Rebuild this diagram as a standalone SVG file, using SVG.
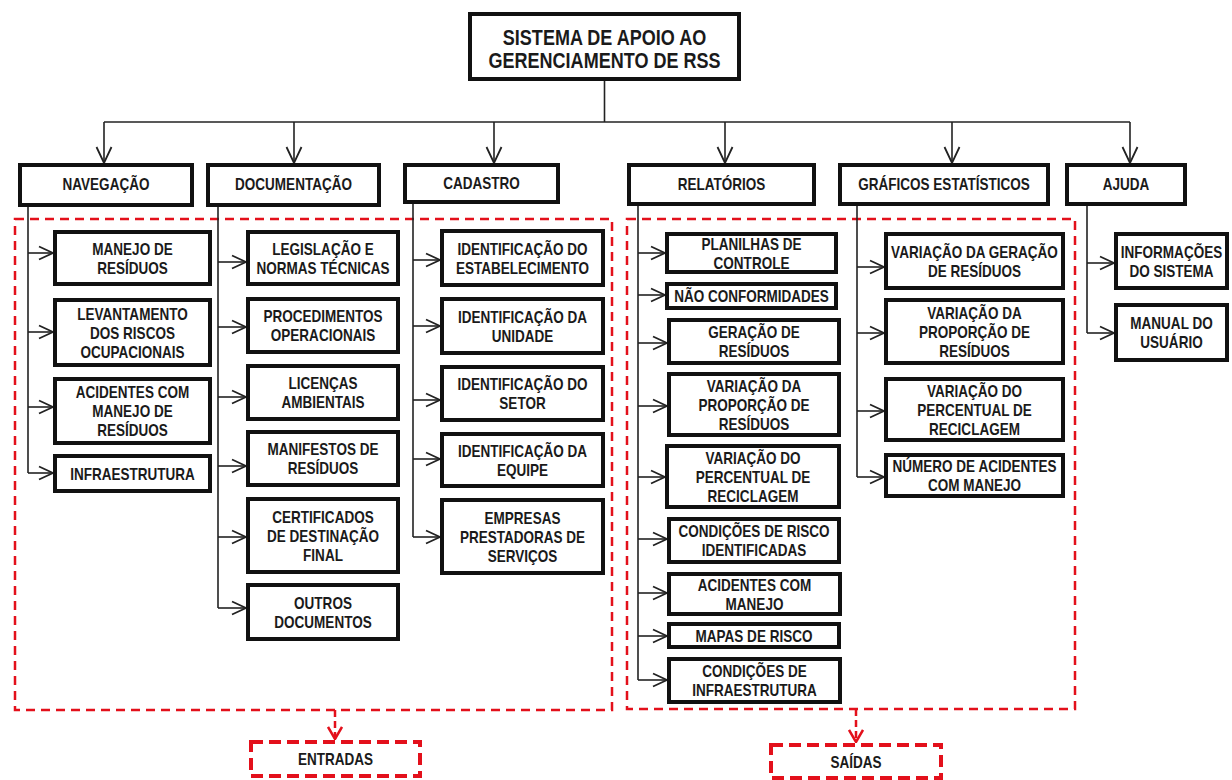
<svg xmlns="http://www.w3.org/2000/svg" width="1232" height="780" viewBox="0 0 1232 780">
<style>
.box{fill:#fff;stroke:#111;stroke-width:4}
.t{font-family:"Liberation Sans",Arial,sans-serif;font-weight:bold;font-size:16.5px;fill:#1a1a1a;text-anchor:middle}
.title{font-size:22px}
.conn{stroke:#222;stroke-width:1.6;fill:none}
.arr{marker-end:url(#ah)}
.arrt{marker-end:url(#aht)}
.rarr{stroke:#e3101b;stroke-width:2.5;stroke-dasharray:7 4;fill:none;marker-end:url(#rah)}
.dash{fill:none;stroke:#e3101b;stroke-width:2.5;stroke-dasharray:9 6}
.dash2{fill:#fff;stroke:#e3101b;stroke-width:4;stroke-dasharray:12 6}
</style>
<defs>
<marker id="ah" viewBox="0 0 16 16" refX="15" refY="8" markerWidth="16" markerHeight="16" markerUnits="userSpaceOnUse" orient="auto"><path d="M1,1.5 L15,8 L1,14.5" fill="none" stroke="#222" stroke-width="1.8"/></marker>
<marker id="aht" viewBox="0 0 18 18" refX="17" refY="9" markerWidth="18" markerHeight="18" markerUnits="userSpaceOnUse" orient="auto"><path d="M1,1.5 L17,9 L1,16.5" fill="none" stroke="#222" stroke-width="1.8"/></marker>
<marker id="rah" viewBox="0 0 14 16" refX="13" refY="8" markerWidth="14" markerHeight="16" markerUnits="userSpaceOnUse" orient="auto"><path d="M1,1 L13,8 L1,15" fill="none" stroke="#e3101b" stroke-width="2.5"/></marker>
</defs>
<rect width="1232" height="780" fill="#fff"/>

<g id="groups">
<rect class="dash" x="15" y="219" width="597" height="491"/>
<rect class="dash" x="627" y="219" width="448" height="490"/>
</g>

<g id="connectors">
<line class="conn" x1="604.5" y1="81" x2="604.5" y2="122"/>
<line class="conn" x1="104" y1="122" x2="1130" y2="122"/>
<line class="conn arrt" x1="104" y1="122" x2="104" y2="163"/>
<line class="conn arrt" x1="294" y1="122" x2="294" y2="163"/>
<line class="conn arrt" x1="494" y1="122" x2="494" y2="163"/>
<line class="conn arrt" x1="725" y1="122" x2="725" y2="163"/>
<line class="conn arrt" x1="952" y1="122" x2="952" y2="163"/>
<line class="conn arrt" x1="1130" y1="122" x2="1130" y2="163"/>

<line class="conn" x1="28" y1="206" x2="28" y2="473"/>
<line class="conn arr" x1="28" y1="253" x2="53" y2="253"/>
<line class="conn arr" x1="28" y1="332" x2="53" y2="332"/>
<line class="conn arr" x1="28" y1="407" x2="53" y2="407"/>
<line class="conn arr" x1="28" y1="473" x2="53" y2="473"/>

<line class="conn" x1="218" y1="206" x2="218" y2="608"/>
<line class="conn arr" x1="218" y1="262" x2="246" y2="262"/>
<line class="conn arr" x1="218" y1="327" x2="246" y2="327"/>
<line class="conn arr" x1="218" y1="397" x2="246" y2="397"/>
<line class="conn arr" x1="218" y1="466" x2="246" y2="466"/>
<line class="conn arr" x1="218" y1="537" x2="246" y2="537"/>
<line class="conn arr" x1="218" y1="608" x2="246" y2="608"/>

<line class="conn" x1="413" y1="204" x2="413" y2="537"/>
<line class="conn arr" x1="413" y1="260" x2="440" y2="260"/>
<line class="conn arr" x1="413" y1="326" x2="440" y2="326"/>
<line class="conn arr" x1="413" y1="400" x2="440" y2="400"/>
<line class="conn arr" x1="413" y1="459" x2="440" y2="459"/>
<line class="conn arr" x1="413" y1="537" x2="440" y2="537"/>

<line class="conn" x1="638" y1="206" x2="638" y2="680"/>
<line class="conn arr" x1="638" y1="253" x2="665" y2="253"/>
<line class="conn arr" x1="638" y1="295" x2="665" y2="295"/>
<line class="conn arr" x1="638" y1="343" x2="667" y2="343"/>
<line class="conn arr" x1="638" y1="406" x2="667" y2="406"/>
<line class="conn arr" x1="638" y1="477" x2="665" y2="477"/>
<line class="conn arr" x1="638" y1="539" x2="667" y2="539"/>
<line class="conn arr" x1="638" y1="593" x2="667" y2="593"/>
<line class="conn arr" x1="638" y1="636" x2="667" y2="636"/>
<line class="conn arr" x1="638" y1="680" x2="667" y2="680"/>

<line class="conn" x1="857" y1="206" x2="857" y2="477"/>
<line class="conn arr" x1="857" y1="267" x2="884" y2="267"/>
<line class="conn arr" x1="857" y1="333" x2="884" y2="333"/>
<line class="conn arr" x1="857" y1="411" x2="884" y2="411"/>
<line class="conn arr" x1="857" y1="477" x2="884" y2="477"/>

<line class="conn" x1="1087" y1="206" x2="1087" y2="333"/>
<line class="conn arr" x1="1087" y1="263" x2="1114" y2="263"/>
<line class="conn arr" x1="1087" y1="333" x2="1114" y2="333"/>

<line class="rarr" x1="335" y1="710" x2="335" y2="739"/>
<line class="rarr" x1="856" y1="709" x2="856" y2="742"/>
</g>

<g id="root"><rect class="box" x="470" y="14" width="269" height="65"/><text class="t title" transform="translate(604.5 45) scale(.82 1)">SISTEMA DE APOIO AO</text><text class="t title" transform="translate(604.5 68) scale(.82 1)">GERENCIAMENTO DE RSS</text></g>

<g id="navegacao"><rect class="box" x="20" y="165" width="172" height="40"/><text class="t" transform="translate(106 190) scale(.82 1)">NAVEGAÇÃO</text></g>
<g id="documentacao"><rect class="box" x="208" y="165" width="171" height="40"/><text class="t" transform="translate(293.5 190) scale(.82 1)">DOCUMENTAÇÃO</text></g>
<g id="cadastro"><rect class="box" x="405" y="165" width="153" height="37"/><text class="t" transform="translate(481.5 189) scale(.82 1)">CADASTRO</text></g>
<g id="relatorios"><rect class="box" x="629" y="165" width="185" height="39"/><text class="t" transform="translate(721.5 190) scale(.82 1)">RELATÓRIOS</text></g>
<g id="graficos"><rect class="box" x="840" y="165" width="208" height="39"/><text class="t" transform="translate(944 190) scale(.82 1)">GRÁFICOS ESTATÍSTICOS</text></g>
<g id="ajuda"><rect class="box" x="1067" y="165" width="118" height="39"/><text class="t" transform="translate(1126 190) scale(.82 1)">AJUDA</text></g>

<g id="nav1"><rect class="box" x="55" y="232" width="155" height="52"/><text class="t" transform="translate(132.5 254.5) scale(.82 1)">MANEJO DE</text><text class="t" transform="translate(132.5 273.5) scale(.82 1)">RESÍDUOS</text></g>
<g id="nav2"><rect class="box" x="55" y="300" width="155" height="65"/><text class="t" transform="translate(132.5 319.5) scale(.82 1)">LEVANTAMENTO</text><text class="t" transform="translate(132.5 338.5) scale(.82 1)">DOS RISCOS</text><text class="t" transform="translate(132.5 357.5) scale(.82 1)">OCUPACIONAIS</text></g>
<g id="nav3"><rect class="box" x="55" y="379" width="155" height="64"/><text class="t" transform="translate(132.5 398) scale(.82 1)">ACIDENTES COM</text><text class="t" transform="translate(132.5 417) scale(.82 1)">MANEJO DE</text><text class="t" transform="translate(132.5 436) scale(.82 1)">RESÍDUOS</text></g>
<g id="nav4"><rect class="box" x="55" y="456" width="155" height="35"/><text class="t" transform="translate(132.5 479.5) scale(.82 1)">INFRAESTRUTURA</text></g>

<g id="doc1"><rect class="box" x="248" y="232" width="150" height="52"/><text class="t" transform="translate(323 254.5) scale(.82 1)">LEGISLAÇÃO E</text><text class="t" transform="translate(323 273.5) scale(.82 1)">NORMAS TÉCNICAS</text></g>
<g id="doc2"><rect class="box" x="248" y="299" width="150" height="53"/><text class="t" transform="translate(323 322) scale(.82 1)">PROCEDIMENTOS</text><text class="t" transform="translate(323 341) scale(.82 1)">OPERACIONAIS</text></g>
<g id="doc3"><rect class="box" x="248" y="366" width="150" height="53"/><text class="t" transform="translate(323 389) scale(.82 1)">LICENÇAS</text><text class="t" transform="translate(323 408) scale(.82 1)">AMBIENTAIS</text></g>
<g id="doc4"><rect class="box" x="248" y="432" width="150" height="53"/><text class="t" transform="translate(323 455) scale(.82 1)">MANIFESTOS DE</text><text class="t" transform="translate(323 474) scale(.82 1)">RESÍDUOS</text></g>
<g id="doc5"><rect class="box" x="248" y="499" width="150" height="73"/><text class="t" transform="translate(323 522.5) scale(.82 1)">CERTIFICADOS</text><text class="t" transform="translate(323 541.5) scale(.82 1)">DE DESTINAÇÃO</text><text class="t" transform="translate(323 560.5) scale(.82 1)">FINAL</text></g>
<g id="doc6"><rect class="box" x="248" y="585" width="150" height="54"/><text class="t" transform="translate(323 608.5) scale(.82 1)">OUTROS</text><text class="t" transform="translate(323 627.5) scale(.82 1)">DOCUMENTOS</text></g>

<g id="cad1"><rect class="box" x="442" y="231" width="161" height="54"/><text class="t" transform="translate(522.5 254.5) scale(.82 1)">IDENTIFICAÇÃO DO</text><text class="t" transform="translate(522.5 273.5) scale(.82 1)">ESTABELECIMENTO</text></g>
<g id="cad2"><rect class="box" x="442" y="299" width="161" height="54"/><text class="t" transform="translate(522.5 322.5) scale(.82 1)">IDENTIFICAÇÃO DA</text><text class="t" transform="translate(522.5 341.5) scale(.82 1)">UNIDADE</text></g>
<g id="cad3"><rect class="box" x="442" y="367" width="161" height="53"/><text class="t" transform="translate(522.5 390) scale(.82 1)">IDENTIFICAÇÃO DO</text><text class="t" transform="translate(522.5 409) scale(.82 1)">SETOR</text></g>
<g id="cad4"><rect class="box" x="442" y="434" width="161" height="52"/><text class="t" transform="translate(522.5 456.5) scale(.82 1)">IDENTIFICAÇÃO DA</text><text class="t" transform="translate(522.5 475.5) scale(.82 1)">EQUIPE</text></g>
<g id="cad5"><rect class="box" x="442" y="500" width="161" height="73"/><text class="t" transform="translate(522.5 523.5) scale(.82 1)">EMPRESAS</text><text class="t" transform="translate(522.5 542.5) scale(.82 1)">PRESTADORAS DE</text><text class="t" transform="translate(522.5 561.5) scale(.82 1)">SERVIÇOS</text></g>

<g id="rel1"><rect class="box" x="667" y="234" width="169" height="38"/><text class="t" transform="translate(751.5 249.5) scale(.82 1)">PLANILHAS DE</text><text class="t" transform="translate(751.5 268.5) scale(.82 1)">CONTROLE</text></g>
<g id="rel2"><rect class="box" x="667" y="284" width="169" height="24"/><text class="t" transform="translate(751.5 302) scale(.82 1)">NÃO CONFORMIDADES</text></g>
<g id="rel3"><rect class="box" x="669" y="320" width="170" height="43"/><text class="t" transform="translate(754 338) scale(.82 1)">GERAÇÃO DE</text><text class="t" transform="translate(754 357) scale(.82 1)">RESÍDUOS</text></g>
<g id="rel4"><rect class="box" x="669" y="374" width="170" height="61"/><text class="t" transform="translate(754 391.5) scale(.82 1)">VARIAÇÃO DA</text><text class="t" transform="translate(754 410.5) scale(.82 1)">PROPORÇÃO DE</text><text class="t" transform="translate(754 429.5) scale(.82 1)">RESÍDUOS</text></g>
<g id="rel5"><rect class="box" x="667" y="446" width="172" height="61"/><text class="t" transform="translate(753 463.5) scale(.82 1)">VARIAÇÃO DO</text><text class="t" transform="translate(753 482.5) scale(.82 1)">PERCENTUAL DE</text><text class="t" transform="translate(753 501.5) scale(.82 1)">RECICLAGEM</text></g>
<g id="rel6"><rect class="box" x="669" y="519" width="170" height="43"/><text class="t" transform="translate(754 537) scale(.82 1)">CONDIÇÕES DE RISCO</text><text class="t" transform="translate(754 556) scale(.82 1)">IDENTIFICADAS</text></g>
<g id="rel7"><rect class="box" x="669" y="574" width="171" height="40"/><text class="t" transform="translate(754.5 590.5) scale(.82 1)">ACIDENTES COM</text><text class="t" transform="translate(754.5 609.5) scale(.82 1)">MANEJO</text></g>
<g id="rel8"><rect class="box" x="669" y="624" width="170" height="23"/><text class="t" transform="translate(754 641.5) scale(.82 1)">MAPAS DE RISCO</text></g>
<g id="rel9"><rect class="box" x="669" y="659" width="171" height="43"/><text class="t" transform="translate(754.5 677) scale(.82 1)">CONDIÇÕES DE</text><text class="t" transform="translate(754.5 696) scale(.82 1)">INFRAESTRUTURA</text></g>

<g id="gra1"><rect class="box" x="886" y="234" width="177" height="54"/><text class="t" transform="translate(974.5 257.5) scale(.82 1)">VARIAÇÃO DA GERAÇÃO</text><text class="t" transform="translate(974.5 276.5) scale(.82 1)">DE RESÍDUOS</text></g>
<g id="gra2"><rect class="box" x="886" y="300" width="177" height="63"/><text class="t" transform="translate(974.5 318.5) scale(.82 1)">VARIAÇÃO DA</text><text class="t" transform="translate(974.5 337.5) scale(.82 1)">PROPORÇÃO DE</text><text class="t" transform="translate(974.5 356.5) scale(.82 1)">RESÍDUOS</text></g>
<g id="gra3"><rect class="box" x="886" y="379" width="177" height="61"/><text class="t" transform="translate(974.5 396.5) scale(.82 1)">VARIAÇÃO DO</text><text class="t" transform="translate(974.5 415.5) scale(.82 1)">PERCENTUAL DE</text><text class="t" transform="translate(974.5 434.5) scale(.82 1)">RECICLAGEM</text></g>
<g id="gra4"><rect class="box" x="886" y="455" width="177" height="41"/><text class="t" transform="translate(974.5 472) scale(.82 1)">NÚMERO DE ACIDENTES</text><text class="t" transform="translate(974.5 491) scale(.82 1)">COM MANEJO</text></g>

<g id="aju1"><rect class="box" x="1116" y="234" width="111" height="54"/><text class="t" transform="translate(1171.5 257.5) scale(.82 1)">INFORMAÇÕES</text><text class="t" transform="translate(1171.5 276.5) scale(.82 1)">DO SISTEMA</text></g>
<g id="aju2"><rect class="box" x="1116" y="305" width="111" height="55"/><text class="t" transform="translate(1171.5 329) scale(.82 1)">MANUAL DO</text><text class="t" transform="translate(1171.5 348) scale(.82 1)">USUÁRIO</text></g>

<g id="entradas"><rect class="dash2" x="251" y="742" width="169" height="34"/><text class="t" transform="translate(335.5 765) scale(.82 1)">ENTRADAS</text></g>
<g id="saidas"><rect class="dash2" x="771" y="745" width="170" height="33"/><text class="t" transform="translate(856 768) scale(.82 1)">SAÍDAS</text></g>
</svg>
